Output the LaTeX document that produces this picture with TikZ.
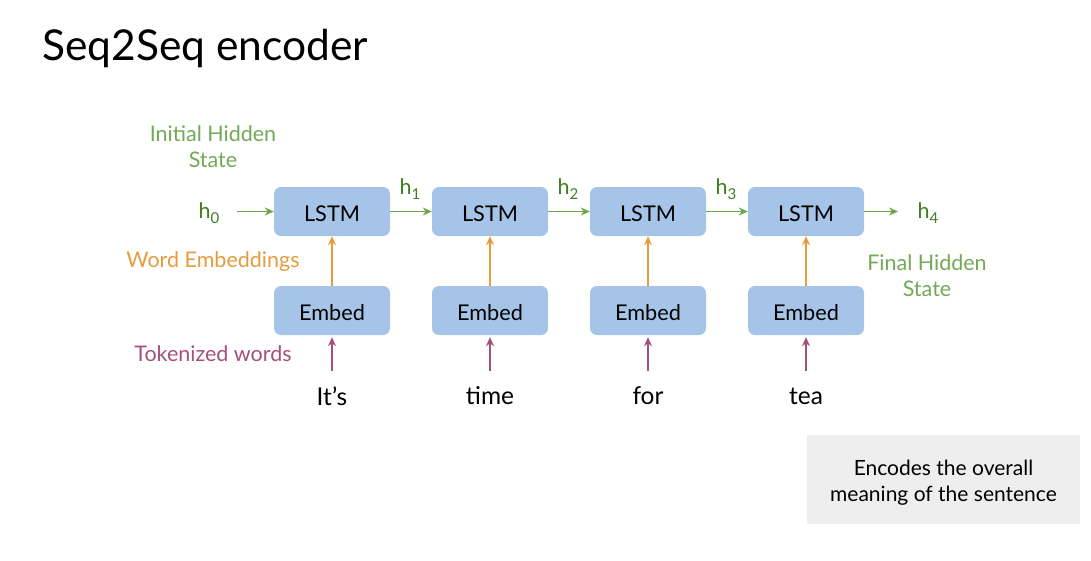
\documentclass[tikz,border=0pt]{standalone}
\usepackage{fontspec}
\setmainfont{Lato}
\usetikzlibrary{arrows.meta}
\definecolor{boxblue}{HTML}{A6C4E7}
\definecolor{lightgreen}{HTML}{72A955}
\definecolor{darkgreen}{HTML}{3F7D20}
\definecolor{arrowgreen}{HTML}{6AA84F}
\definecolor{embedorange}{HTML}{E69B3F}
\definecolor{tokpurple}{HTML}{A3507D}
\definecolor{notegray}{HTML}{EEEEEE}
\newcommand{\hsub}[1]{h\raisebox{-0.4ex}{\fontsize{15}{15}\selectfont #1}}
\tikzset{
  cell/.style={fill=boxblue, rounded corners=7pt, minimum width=116pt, minimum height=49pt,
    font=\fontsize{21.7}{26}\selectfont, inner sep=0pt, text height=19.5pt, text depth=0pt},
  tag/.style={font=\fontsize{21.5}{26}\selectfont, align=center, inner sep=0pt},
  word/.style={font=\fontsize{24.5}{28}\selectfont, inner sep=0pt},
  harrow/.style={draw=arrowgreen, line width=1.9pt, -{Stealth[length=9pt,width=8pt]}},
  earrow/.style={draw=embedorange, line width=1.9pt, -{Stealth[length=9pt,width=8pt]}},
  tarrow/.style={draw=tokpurple, line width=1.9pt, -{Stealth[length=9pt,width=8pt]}},
  hlabel/.style={text=darkgreen, font=\fontsize{21.5}{24}\selectfont, inner sep=0pt}
}
\begin{document}
\begin{tikzpicture}[x=1pt, y=-1pt]
  \useasboundingbox (0,0) rectangle (1091,560);
  % title
  \node[anchor=base west, font=\fontsize{42.5}{50}\selectfont, inner sep=0pt] (title) at (42,60) {Seq2Seq encoder};

  % LSTM and embedding cells
  \foreach \i/\x in {1/332, 2/490, 3/648, 4/806} {
    \node[cell] (lstm\i) at (\x,211.5) {LSTM};
    \node[cell] (emb\i) at (\x,310.5) {Embed};
    \coordinate (in\i) at (\x,371);
    \draw[earrow] (emb\i.north) -- (lstm\i.south);
    \draw[tarrow] (in\i) -- ([yshift=-2pt]emb\i.south);
  }
  \node[word] (w1) at (332,396) {It’s};
  \node[word] (w2) at (490,396) {time};
  \node[word] (w3) at (648,396) {for};
  \node[word] (w4) at (806,396) {tea};

  % hidden states
  \node[hlabel] (h0) at (209,213) {\hsub{0}};
  \node[hlabel] (h1) at (410,189) {\hsub{1}};
  \node[hlabel] (h2) at (568,189) {\hsub{2}};
  \node[hlabel] (h3) at (726,189) {\hsub{3}};
  \node[hlabel] (h4) at (928,213) {\hsub{4}};
  \coordinate (h0e) at (237,211.5);
  \coordinate (h4s) at (898,211.5);
  \draw[harrow] (h0e) -- (lstm1.west);
  \draw[harrow] (lstm1.east) -- (lstm2.west);
  \draw[harrow] (lstm2.east) -- (lstm3.west);
  \draw[harrow] (lstm3.east) -- (lstm4.west);
  \draw[harrow] (lstm4.east) -- (h4s);

  % side labels
  \node[tag, text=lightgreen] (init) at (213,147) {Initial Hidden\\State};
  \node[tag, text=embedorange] (wemb) at (213,262) {Word Embeddings};
  \node[tag, text=tokpurple] (tok) at (213,354) {Tokenized words};
  \node[tag, text=lightgreen] (final) at (927,276) {Final Hidden\\State};

  % note box and its caption
  \node[fill=notegray, minimum width=273pt, minimum height=89pt, inner sep=0pt] (note) at (943.5,479.5) {};
  \node[align=center, font=\fontsize{21}{26}\selectfont, inner sep=0pt] (notetext) at ([yshift=-3pt]note.center)
        {Encodes the overall\\meaning of the sentence};
\end{tikzpicture}
\end{document}
